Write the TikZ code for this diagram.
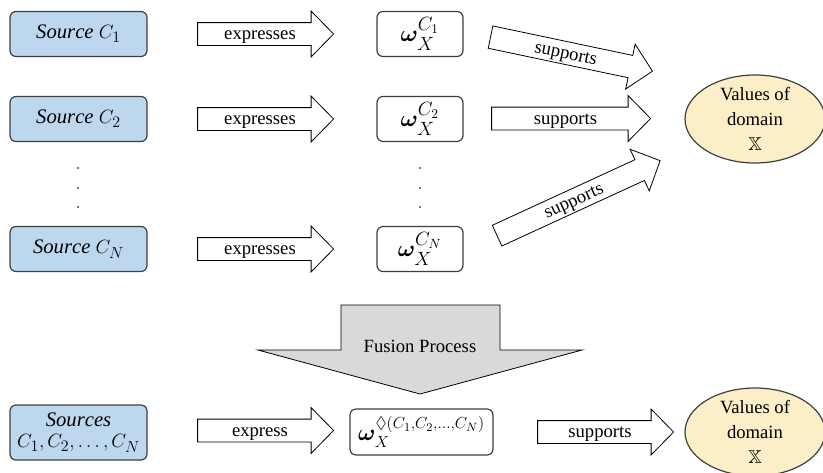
\documentclass[tikz,border=0pt]{standalone}
\usepackage{amsmath,amssymb,bm}
\usepackage{fontspec}
\setmainfont{Liberation Serif}
\usetikzlibrary{shapes.arrows,shapes.geometric}

% larger script sizes for the formula boxes
\DeclareMathSizes{18}{18}{14}{10}
\DeclareMathSizes{16}{16}{12.5}{9}
\DeclareMathSizes{15.5}{15.5}{12}{9}

\definecolor{srcblue}{HTML}{BDD7EE}
\definecolor{domyellow}{HTML}{FCEFC7}
\definecolor{fusiongray}{HTML}{D9D9D9}
\definecolor{edgegray}{HTML}{3F3F3F}

\tikzset{
  srcbox/.style={draw=edgegray, line width=0.9pt, fill=srcblue, rounded corners=4.5pt,
    minimum width=102.75pt, minimum height=33.75pt, inner sep=0pt, align=center,
    font=\fontsize{15.5}{18}\selectfont},
  opbox/.style={draw=edgegray, line width=0.9pt, fill=white, rounded corners=4.5pt,
    minimum width=64.5pt, minimum height=33.75pt, inner sep=0pt,
    font=\fontsize{18}{21}\selectfont},
  domainell/.style={ellipse, draw=edgegray, line width=0.9pt, fill=domyellow,
    minimum width=105pt, minimum height=66pt, inner sep=0pt},
  domtext/.style={align=center, inner sep=0pt, font=\fontsize{14}{18.75}\selectfont},
  blockarrow/.style={single arrow, draw=black, line width=0.6pt, fill=white,
    inner xsep=0pt, inner ysep=0pt, text height=12.5pt, text depth=4pt,
    minimum width=33.75pt, single arrow head extend=8.625pt,
    single arrow tip angle=91, single arrow head indent=0pt,
    font=\fontsize{14}{17}\selectfont},
  fusionarrow/.style={draw=black, line width=0.6pt, fill=fusiongray},
  vdot/.style={circle, fill=black!70, inner sep=0pt, minimum size=1.6pt},
}

\begin{document}
\begin{tikzpicture}[x=0.75pt, y=-0.75pt]
  \useasboundingbox (0,0) rectangle (823,472);

  % sources
  \node[srcbox] (c1) at (78.5,34) {$\mathit{Source}\ C_1$};
  \node[srcbox] (c2) at (78.5,119) {$\mathit{Source}\ C_2$};
  \node[srcbox] (cn) at (78.5,249) {$\mathit{Source}\ C_N$};

  % opinions
  \node[opbox] (w1) at (420,34) {$\bm{\omega}_X^{C_1}$};
  \node[opbox] (w2) at (420,119) {$\bm{\omega}_X^{C_2}$};
  \node[opbox] (wn) at (420,249) {$\bm{\omega}_X^{C_N}$};

  % vertical ellipsis dots
  \node[vdot] (ld1) at (78,168) {};
  \node[vdot] (ld2) at (78,188) {};
  \node[vdot] (ld3) at (78,207) {};
  \node[vdot] (rd1) at (420,168) {};
  \node[vdot] (rd2) at (420,188) {};
  \node[vdot] (rd3) at (420,207) {};

  % "expresses" arrows
  \node[blockarrow, minimum height=102pt] (e1) at (260,34) {expresses};
  \node[blockarrow, minimum height=102pt] (e2) at (260,119) {expresses};
  \node[blockarrow, minimum height=102pt] (en) at (260,249) {expresses};

  % "supports" arrows towards the domain
  \node[blockarrow, minimum height=124.1pt, rotate=-11.9] (s1) at (566,53) {supports};
  \node[blockarrow, minimum height=119.25pt] (s2) at (565.5,118.5) {supports};
  \node[blockarrow, minimum height=134.6pt, rotate=24.7] (sn) at (573.5,200.5) {supports};

  % domain
  \node[domainell] (dom) at (755,119) {};
  \node[domtext] (domlabel) at (dom.center) {Values of\\domain\\$\mathbb{X}$};

  % fusion step
  \draw[fusionarrow] (341,305) -- (500,305) -- (500,350) -- (582,350) -- (420,394)
    -- (258,350) -- (341,350) -- cycle;
  \node[font=\fontsize{14}{17}\selectfont] (fusion) at (420,346) {Fusion Process};

  % fused result
  \node[srcbox, minimum height=41.25pt] (call) at (78.5,432.5)
    {$\mathit{Sources}$\\[-2pt]$C_1, C_2, \dots, C_N$};
  \node[opbox, minimum width=107.25pt, minimum height=34.5pt,
    font=\fontsize{16}{19}\selectfont] (wall) at (421.5,432)
    {$\bm{\omega}_X^{\lozenge(C_1,C_2,\dots,C_N)}$};
  \node[blockarrow, minimum height=102pt] (eall) at (260,430.5) {express};
  \node[blockarrow, minimum height=102pt] (sall) at (600,432) {supports};
  \node[domainell] (domall) at (755,432) {};
  \node[domtext] (domalllabel) at (domall.center) {Values of\\domain\\$\mathbb{X}$};
\end{tikzpicture}
\end{document}
